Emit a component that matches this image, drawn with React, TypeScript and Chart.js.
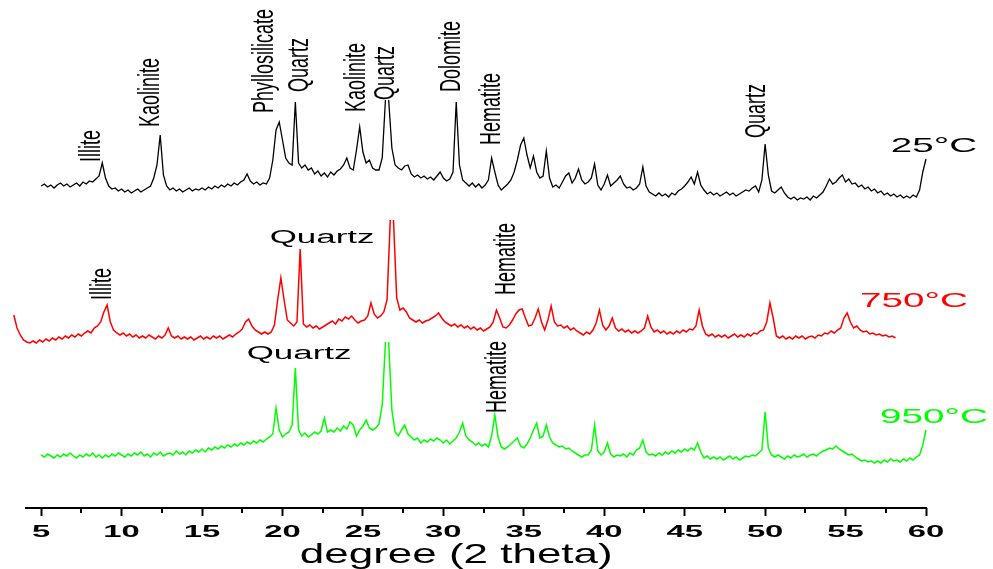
import React, { useEffect, useRef } from 'react';
import { Chart, registerables } from 'chart.js';

Chart.register(...registerables);

// ---- data ----
const STEP = 0.2; // degree spacing of the digitised scans

// 25 °C scan, 5.0° .. 60.0°
const START_25C = 5.0;
const INTENSITY_25C = [
  322, 324, 321, 323, 320, 323, 325, 322, 324, 321,
  323, 325, 322, 326, 324, 327, 326, 329, 332, 345,
  330, 322, 319, 320, 317, 319, 316, 318, 315, 317,
  319, 316, 318, 320, 322, 330, 343, 373, 333, 322,
  318, 320, 317, 319, 316, 318, 320, 317, 319, 318,
  320, 318, 321, 319, 322, 320, 323, 321, 324, 322,
  325, 323, 326, 328, 334, 327, 324, 326, 323, 325,
  324, 330, 348, 378, 386, 368, 350, 345, 343, 406,
  345, 340, 343, 338, 340, 334, 337, 332, 335, 331,
  336, 333, 337, 339, 343, 350, 340, 338, 358, 381,
  356, 345, 348, 340, 338, 338, 350, 408, 408, 360,
  343, 340, 338, 342, 343, 334, 331, 333, 330, 332,
  329, 331, 328, 332, 336, 330, 327, 329, 336, 406,
  343, 328, 325, 322, 325, 321, 324, 320, 323, 328,
  350, 336, 323, 318, 321, 324, 328, 336, 348, 363,
  370, 353, 340, 352, 336, 330, 332, 357, 330, 321,
  323, 320, 326, 332, 335, 325, 330, 339, 328, 324,
  326, 330, 344, 323, 318, 324, 333, 322, 325, 328,
  332, 324, 320, 321, 318, 320, 324, 341, 322, 316,
  314, 312, 315, 312, 314, 311, 315, 313, 317, 319,
  322, 326, 331, 324, 336, 323, 318, 314, 316, 313,
  315, 312, 314, 316, 313, 315, 312, 314, 316, 318,
  317, 320, 322, 316, 328, 364, 333, 317, 315, 318,
  321, 315, 311, 309, 311, 308, 310, 309, 311, 308,
  312, 310, 313, 316, 322, 329, 324, 326, 330, 333,
  326, 329, 324, 325, 321, 323, 319, 321, 317, 319,
  315, 317, 313, 315, 312, 314, 311, 313, 310, 312,
  310, 313, 311, 318, 336, 349,
];
const CAP_25C = 408;

// 750 °C scan, 3.3° .. 58.1°
const START_750C = 3.3;
const INTENSITY_750C = [
  193, 180, 173, 168, 166, 165, 167, 165, 168, 166,
  169, 167, 170, 168, 171, 169, 172, 170, 173, 171,
  174, 172, 175, 177, 175, 180, 182, 186, 196, 203,
  186, 178, 175, 173, 175, 172, 174, 171, 173, 170,
  172, 170, 173, 171, 169, 172, 170, 173, 180, 172,
  170, 172, 169, 171, 169, 171, 168, 170, 172, 169,
  171, 169, 172, 170, 172, 169, 171, 173, 171, 174,
  176, 179, 186, 189, 182, 178, 176, 174, 176, 174,
  176, 183, 208, 230, 208, 188, 185, 182, 186, 259,
  184, 181, 183, 180, 182, 179, 181, 183, 185, 187,
  184, 189, 187, 191, 189, 192, 188, 185, 187, 188,
  192, 205, 194, 190, 192, 196, 208, 288, 288, 210,
  198, 200, 196, 190, 188, 186, 188, 185, 187, 188,
  190, 192, 195, 190, 186, 184, 182, 184, 181, 183,
  180, 182, 179, 181, 178, 180, 177, 179, 181, 186,
  198, 190, 181, 180, 183, 188, 194, 198, 199, 190,
  182, 183, 190, 199, 186, 178, 188, 202, 186, 182,
  183, 180, 182, 178, 180, 177, 175, 173, 176, 174,
  178, 185, 198, 183, 178, 182, 190, 180, 177, 179,
  176, 178, 175, 177, 175, 177, 180, 192, 181, 176,
  178, 175, 177, 174, 176, 174, 177, 175, 178, 176,
  179, 178, 182, 198, 182, 174, 172, 174, 171, 173,
  171, 173, 170, 172, 174, 171, 173, 171, 174, 172,
  175, 174, 177, 178, 186, 205, 190, 172, 170, 172,
  169, 171, 169, 172, 170, 172, 169, 171, 172, 170,
  173, 172, 175, 174, 177, 175, 178, 180, 190, 195,
  186, 180, 182, 178, 176, 177, 174, 175, 173, 174,
  172, 173, 171, 172, 170,
];
const CAP_750C = 288;

// 950 °C scan, 5.0° .. 60.0°
const START_950C = 5.0;
const INTENSITY_950C = [
  53, 51, 54, 52, 50, 53, 51, 54, 52, 55,
  52, 50, 53, 51, 54, 52, 55, 51, 53, 50,
  53, 51, 54, 52, 55, 53, 51, 54, 52, 55,
  53, 56, 52, 54, 51, 55, 53, 56, 52, 54,
  55, 53, 57, 54, 56, 53, 57, 55, 58, 56,
  59, 56, 60, 58, 61, 59, 62, 60, 63, 61,
  64, 62, 65, 63, 66, 64, 67, 65, 68, 66,
  69, 71, 74, 100, 78, 71, 74, 76, 83, 140,
  78, 72, 75, 71, 73, 76, 74, 77, 90, 76,
  78, 76, 80, 77, 82, 79, 86, 83, 72, 78,
  82, 88, 80, 78, 80, 84, 103, 166, 166, 98,
  76, 72, 78, 83, 74, 71, 68, 70, 65, 68,
  66, 69, 67, 70, 68, 65, 68, 64, 67, 70,
  76, 85, 72, 68, 66, 63, 65, 62, 64, 61,
  72, 93, 71, 61, 59, 61, 64, 67, 70, 62,
  60, 64, 70, 78, 85, 70, 72, 83, 71, 65,
  63, 61, 62, 59, 60, 57, 55, 53, 51, 53,
  53, 58, 83, 57, 53, 56, 65, 54, 51, 53,
  52, 54, 51, 55, 53, 58, 60, 68, 56, 53,
  54, 52, 55, 53, 56, 54, 57, 55, 58, 56,
  59, 57, 60, 58, 65, 56, 50, 52, 49, 51,
  49, 51, 48, 50, 52, 49, 51, 48, 50, 52,
  51, 53, 52, 55, 58, 96, 60, 53, 51, 53,
  51, 49, 52, 50, 53, 51, 52, 54, 51, 53,
  54, 52, 55, 57, 58, 60, 59, 62, 59, 57,
  55, 53, 54, 51, 49, 47, 48, 46, 47, 45,
  47, 45, 48, 46, 49, 47, 48, 46, 49, 47,
  50, 48, 51, 53, 63, 78,
];
const CAP_950C = 166;

const X_AXIS_START = 4; // the drawn axis line runs from 4° to 60°
const X_TICKS = [5, 10, 15, 20, 25, 30, 35, 40, 45, 50, 55, 60];
const X_TITLE = 'degree (2 theta)';

// phase labels (x in degrees 2θ, y in intensity units)
const PHASE_LABELS_VERTICAL = [
  { text: 'Illite', x: 8.16, y: 346 },
  { text: 'Kaolinite', x: 11.83, y: 381 },
  { text: 'Phyllosilicate', x: 18.92, y: 395 },
  { text: 'Quartz', x: 21.09, y: 416 },
  { text: 'Kaolinite', x: 24.63, y: 396 },
  { text: 'Quartz', x: 26.44, y: 408 },
  { text: 'Dolomite', x: 30.54, y: 416 },
  { text: 'Hematite', x: 33.02, y: 363 },
  { text: 'Quartz', x: 49.49, y: 370 },
  { text: 'Illite', x: 8.85, y: 208 },
  { text: 'Hematite', x: 33.96, y: 213 },
  { text: 'Hematite', x: 33.4, y: 95 },
];
const PHASE_LABELS_HORIZONTAL = [
  { text: 'Quartz', x: 22.46, y: 265 },
  { text: 'Quartz', x: 21.03, y: 149 },
];
const SERIES_NAMES = ['25°C', '750°C', '950°C'];
const SERIES_COLORS = ['#000000', '#ff0000', '#00ff00'];
const SERIES_LABEL_POS = [
  { x: 60.49, y: 356 },
  { x: 59.25, y: 201 },
  { x: 60.49, y: 85 },
];

// ---- helpers ----
const toPoints = (start: number, values: number[]) =>
  values.map((v, i) => ({ x: +(start + i * STEP).toFixed(2), y: v }));

const FONT = '"Liberation Sans", Arial, sans-serif';

function drawText(
  ctx: CanvasRenderingContext2D,
  text: string,
  x: number,
  y: number,
  font: string,
  sx: number,
  color: string,
  vertical = false
) {
  ctx.save();
  ctx.translate(x, y);
  ctx.scale(sx, 1);
  ctx.font = font;
  ctx.fillStyle = color;
  if (vertical) {
    ctx.rotate(-Math.PI / 2);
    ctx.textAlign = 'left';
    ctx.textBaseline = 'middle';
  } else {
    ctx.textAlign = 'center';
    ctx.textBaseline = 'alphabetic';
  }
  ctx.fillText(text, 0, 0);
  ctx.restore();
}

const textPlugin = {
  id: 'xrdText',
  afterDraw(chart: any) {
    const ctx: CanvasRenderingContext2D = chart.ctx;
    const xs = chart.scales.x;
    const ys = chart.scales.y;
    const axisY = chart.chartArea.bottom;

    ctx.save();
    ctx.strokeStyle = '#000';
    ctx.lineWidth = 2;
    // axis line
    ctx.beginPath();
    ctx.moveTo(xs.getPixelForValue(X_AXIS_START), axisY);
    ctx.lineTo(xs.getPixelForValue(X_TICKS[X_TICKS.length - 1]) + 1, axisY);
    ctx.stroke();
    // minor ticks halfway between major ticks
    for (let i = 0; i < X_TICKS.length - 1; i++) {
      const v = (X_TICKS[i] + X_TICKS[i + 1]) / 2;
      const px = Math.round(xs.getPixelForValue(v));
      ctx.beginPath();
      ctx.moveTo(px, axisY);
      ctx.lineTo(px, axisY + 5);
      ctx.stroke();
    }
    ctx.restore();

    // tick labels
    X_TICKS.forEach((v) =>
      drawText(ctx, String(v), xs.getPixelForValue(v), axisY + 29, 'bold 16px ' + FONT, 2.05, '#000')
    );

    // axis title
    drawText(ctx, X_TITLE, xs.getPixelForValue(30.8), axisY + 55, '28px ' + FONT, 1.57, '#000');

    // phase labels
    PHASE_LABELS_VERTICAL.forEach((l) =>
      drawText(ctx, l.text, xs.getPixelForValue(l.x), ys.getPixelForValue(l.y), '18px ' + FONT, 1.6, '#000', true)
    );
    PHASE_LABELS_HORIZONTAL.forEach((l) =>
      drawText(ctx, l.text, xs.getPixelForValue(l.x), ys.getPixelForValue(l.y), '18px ' + FONT, 1.94, '#000')
    );
    SERIES_NAMES.forEach((name, i) =>
      drawText(
        ctx,
        name,
        xs.getPixelForValue(SERIES_LABEL_POS[i].x),
        ys.getPixelForValue(SERIES_LABEL_POS[i].y),
        '21px ' + FONT,
        1.84,
        SERIES_COLORS[i]
      )
    );
  },
};

const capSegment = (cap: number) => ({
  borderColor: (c: any) =>
    c.p0.parsed.y >= cap && c.p1.parsed.y >= cap ? 'rgba(0,0,0,0)' : undefined,
});

export default function App() {
  const canvasRef = useRef<HTMLCanvasElement | null>(null);

  useEffect(() => {
    if (!canvasRef.current) return;
    const series = [
      { data: toPoints(START_25C, INTENSITY_25C), cap: CAP_25C, width: 1.3 },
      { data: toPoints(START_750C, INTENSITY_750C), cap: CAP_750C, width: 1.5 },
      { data: toPoints(START_950C, INTENSITY_950C), cap: CAP_950C, width: 1.5 },
    ];
    const chart = new Chart(canvasRef.current, {
      type: 'line',
      data: {
        datasets: series.map((s, i) => ({
          label: SERIES_NAMES[i],
          data: s.data,
          borderColor: SERIES_COLORS[i],
          borderWidth: s.width,
          pointRadius: 0,
          tension: 0,
          fill: false,
          clip: false,
          segment: capSegment(s.cap),
        })),
      },
      options: {
        animation: false,
        responsive: true,
        maintainAspectRatio: false,
        layout: { padding: { left: 13, right: 67, top: 0, bottom: 0 } },
        plugins: { legend: { display: false }, tooltip: { enabled: false } },
        scales: {
          x: {
            type: 'linear',
            position: 'bottom',
            min: 3.25,
            max: 60,
            afterBuildTicks: (s: any) => {
              s.ticks = X_TICKS.map((v) => ({ value: v }));
            },
            afterFit: (s: any) => {
              s.height = 61;
            },
            ticks: { display: false },
            grid: {
              display: true,
              drawOnChartArea: false,
              drawTicks: true,
              tickLength: 8,
              tickWidth: 2,
              tickColor: '#000',
              color: '#000',
            },
            border: { display: false },
            title: { display: false, text: X_TITLE },
          },
          y: {
            display: false,
            min: 0,
            max: 508,
          },
        },
      },
      plugins: [textPlugin],
    } as any);
    return () => chart.destroy();
  }, []);

  return (
    <div style={{ position: 'absolute', left: 0, top: 0, width: 993, height: 569, background: '#fff' }}>
      <canvas ref={canvasRef} />
    </div>
  );
}
